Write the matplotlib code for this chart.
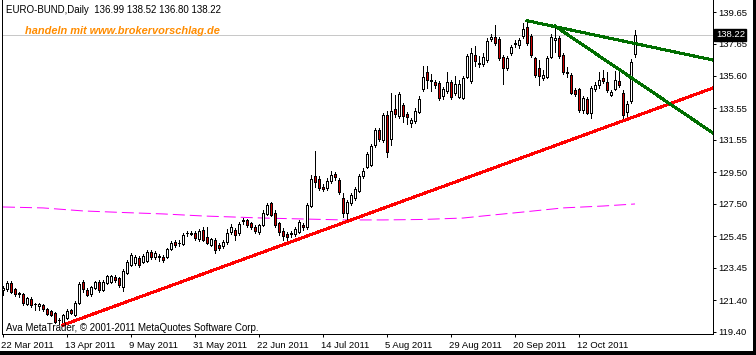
import numpy as np
import matplotlib
matplotlib.use('Agg')
import matplotlib.pyplot as plt
from matplotlib.patches import Rectangle

plt.rcParams['font.family'] = ['Liberation Sans', 'DejaVu Sans']

# daily OHLC, EURO-BUND, 22 Mar 2011 .. 1 Nov 2011
opens = [122.06, 122.12, 122.50, 122.12, 121.80, 121.80, 121.17, 121.49, 121.17, 121.04,
         121.11, 120.85, 120.73, 120.60, 120.16, 119.91, 120.29, 120.79, 120.47, 121.24,
         122.56, 122.06, 121.80, 122.18, 122.56, 122.06, 122.50, 122.56, 122.88, 122.82,
         122.25, 123.13, 123.64, 123.77, 124.08, 123.83, 123.89, 124.46, 124.15, 124.15,
         124.15, 124.15, 124.65, 125.09, 125.03, 124.97, 125.66, 125.63, 125.66, 125.28,
         125.85, 125.41, 124.91, 125.22, 124.91, 124.84, 125.09, 125.73, 125.85, 125.66,
         126.42, 126.49, 126.30, 126.04, 125.73, 126.17, 126.87, 127.56, 126.93, 126.30,
         125.79, 125.60, 125.66, 125.60, 125.73, 126.17, 126.04, 127.37, 129.27, 129.08,
         128.58, 128.51, 128.96, 129.40, 129.02, 127.88, 126.93, 127.56, 127.88, 128.32,
         129.27, 129.84, 129.97, 131.23, 132.18, 131.55, 133.13, 131.61, 133.51, 133.07,
         133.76, 133.19, 132.63, 132.75, 133.32, 134.78, 135.85, 135.28, 135.22, 135.16,
         134.33, 134.65, 135.22, 134.52, 134.27, 134.21, 135.54, 135.28, 136.93, 136.36,
         136.36, 136.61, 137.94, 138.07, 137.94, 136.80, 136.11, 137.05, 137.62, 137.56,
         138.13, 138.70, 138.13, 136.74, 136.11, 135.47, 135.54, 136.80, 137.88, 138.00,
         136.93, 135.85, 135.66, 134.71, 134.78, 133.45, 134.14, 133.26, 134.78, 135.03,
         135.47, 135.22, 134.40, 134.78, 135.28, 134.52, 133.32, 134.02, 136.99]
highs = [122.31, 122.63, 122.63, 122.18, 121.93, 121.87, 121.61, 121.61, 121.24, 121.24,
         121.17, 120.92, 120.79, 120.66, 120.29, 120.54, 120.85, 120.85, 121.36, 122.56,
         122.69, 122.18, 122.31, 122.63, 122.69, 122.69, 123.01, 123.01, 123.01, 122.88,
         123.39, 123.96, 124.40, 124.27, 124.21, 124.34, 124.59, 124.59, 124.53, 124.34,
         124.27, 124.72, 125.16, 125.22, 125.22, 125.66, 125.79, 125.79, 125.79, 125.92,
         126.04, 126.04, 125.35, 125.35, 125.03, 125.22, 125.92, 126.23, 125.98, 126.36,
         126.61, 126.55, 126.36, 126.17, 126.23, 127.12, 127.56, 127.63, 127.12, 126.36,
         125.98, 125.73, 125.79, 126.04, 126.49, 126.30, 127.56, 129.33, 130.85, 129.27,
         128.77, 129.15, 129.59, 129.52, 129.15, 128.20, 127.75, 128.20, 128.58, 129.40,
         129.77, 130.79, 131.30, 132.31, 132.31, 133.26, 133.38, 134.52, 134.40, 134.59,
         133.89, 133.32, 132.94, 133.57, 134.33, 136.23, 136.23, 135.73, 135.35, 135.28,
         134.90, 135.85, 135.35, 135.60, 135.35, 135.60, 136.99, 137.37, 137.50, 136.87,
         137.05, 138.00, 138.26, 138.83, 138.07, 136.93, 136.87, 137.56, 137.88, 138.00,
         138.95, 139.08, 138.26, 136.80, 136.61, 135.98, 136.87, 138.26, 138.76, 138.13,
         137.05, 136.17, 135.79, 134.84, 134.84, 134.33, 134.27, 134.97, 135.22, 135.85,
         135.98, 135.85, 134.71, 135.92, 136.11, 134.71, 134.02, 136.67, 138.52]
lows = [121.74, 121.99, 121.87, 121.68, 121.61, 121.11, 121.11, 120.98, 120.79, 120.79,
        120.73, 120.47, 120.41, 119.97, 119.91, 119.84, 120.22, 120.54, 120.41, 121.17,
        121.93, 121.68, 121.68, 122.12, 121.93, 121.99, 122.44, 122.50, 122.56, 122.25,
        121.99, 123.07, 123.58, 123.64, 123.51, 123.77, 123.83, 124.02, 124.02, 123.89,
        123.83, 124.08, 124.59, 124.78, 124.84, 124.91, 125.47, 125.53, 125.22, 125.16,
        125.16, 124.97, 124.84, 124.40, 124.59, 124.72, 124.97, 125.60, 125.22, 125.53,
        126.23, 126.04, 125.92, 125.66, 125.60, 126.11, 126.80, 126.74, 126.04, 125.53,
        125.22, 125.22, 125.41, 125.47, 125.66, 125.85, 125.92, 127.31, 128.58, 128.39,
        128.32, 128.39, 128.83, 129.02, 128.13, 126.68, 126.42, 127.44, 127.75, 128.26,
        129.15, 129.77, 129.90, 131.11, 131.49, 131.42, 130.47, 131.23, 133.00, 132.94,
        132.69, 132.56, 132.37, 132.63, 133.26, 134.65, 134.84, 134.65, 134.84, 134.08,
        134.14, 134.52, 134.14, 134.40, 134.21, 134.14, 135.47, 135.16, 136.23, 136.17,
        136.23, 136.49, 137.81, 137.56, 136.61, 135.09, 135.98, 136.93, 137.43, 137.37,
        138.00, 137.56, 136.80, 135.54, 135.03, 135.35, 135.47, 136.74, 137.12, 136.74,
        135.73, 135.54, 134.46, 134.33, 133.32, 133.26, 133.19, 132.94, 134.65, 134.84,
        135.16, 134.59, 134.33, 134.71, 134.90, 132.94, 133.00, 133.89, 136.80]
closes = [122.18, 122.50, 121.93, 121.80, 121.87, 121.24, 121.55, 121.11, 121.20, 121.17,
          120.85, 120.54, 120.47, 120.03, 120.13, 120.47, 120.73, 120.60, 121.24, 122.44,
          122.12, 121.74, 122.25, 122.56, 122.06, 122.56, 122.94, 122.94, 122.69, 122.37,
          123.26, 123.83, 124.27, 124.15, 123.64, 124.21, 124.46, 124.15, 124.40, 124.21,
          123.96, 124.65, 125.03, 124.91, 125.06, 125.53, 125.69, 125.69, 125.35, 125.79,
          125.22, 125.03, 125.28, 124.59, 124.72, 125.09, 125.66, 126.04, 125.53, 126.23,
          126.49, 126.17, 126.04, 125.79, 126.17, 126.93, 127.44, 126.80, 126.17, 125.73,
          125.47, 125.41, 125.60, 125.92, 126.36, 126.04, 127.44, 129.08, 128.89, 128.51,
          128.45, 128.96, 129.33, 129.21, 128.26, 126.93, 127.63, 128.07, 128.45, 129.27,
          129.59, 130.66, 131.17, 132.18, 131.61, 133.13, 130.79, 133.38, 133.19, 134.46,
          133.07, 133.00, 132.81, 133.38, 134.14, 135.54, 135.35, 135.35, 135.03, 134.21,
          134.78, 135.22, 134.27, 135.09, 135.09, 135.47, 136.87, 137.05, 136.55, 136.42,
          136.80, 137.81, 138.07, 137.69, 136.74, 136.11, 136.74, 137.43, 137.69, 137.88,
          138.57, 137.69, 136.93, 135.66, 135.60, 135.66, 136.74, 138.07, 138.00, 136.87,
          135.85, 135.79, 134.52, 134.46, 133.45, 134.21, 133.26, 134.84, 135.03, 135.35,
          135.28, 134.71, 134.59, 135.35, 135.03, 133.13, 133.83, 136.49, 138.22]

# 200-day moving average (read at a few bars)
ma_bar = [0, 10, 20, 30, 40, 50, 57, 65, 75, 85, 95, 105, 115, 120, 130, 140, 150, 158]
ma_val = [127.31, 127.25, 127.06, 126.96, 126.87, 126.74, 126.68, 126.61, 126.55, 126.49,
          126.49, 126.52, 126.61, 126.74, 126.99, 127.25, 127.37, 127.50]

# trend lines (bar, price)
red_bar, red_val = [15, 177.5], [119.84, 134.84]
green1_bar, green1_val = [131, 177.5], [139.10, 136.61]
green2_bar, green2_val = [138, 177.5], [138.76, 131.99]

last_price = 138.22
y_ticks = [139.65, 137.65, 135.60, 133.55, 131.55, 129.50, 127.50, 125.45, 123.45, 121.40, 119.40]
x_tick_bars = [0, 16, 32, 48, 64, 80, 96, 112, 128, 144]
x_tick_labels = ['22 Mar 2011', '13 Apr 2011', '9 May 2011', '31 May 2011', '22 Jun 2011',
                 '14 Jul 2011', '5 Aug 2011', '29 Aug 2011', '20 Sep 2011', '12 Oct 2011']

px = 0.72  # one pixel in points at 100 dpi
fig = plt.figure(figsize=(7.56, 3.55), dpi=100)
ax = fig.add_axes([2 / 756, 21 / 355, 711 / 756, 334 / 355])

o = np.array(opens)
h = np.array(highs)
l = np.array(lows)
c = np.array(closes)
x = np.arange(len(o))

# candles
ax.vlines(x, l, h, color='black', linewidth=px, antialiased=False, zorder=3)
up = c >= o
ax.bar(x, np.abs(c - o), bottom=np.minimum(o, c), width=0.6,
       color=np.where(up, 'white', '#cc0000'), edgecolor='black', linewidth=px,
       antialiased=False, zorder=4)

# current price line
ax.axhline(last_price, color='#c8c8c8', linewidth=px, zorder=1)

# moving average
ax.plot(ma_bar, ma_val, color='#ff00ff', linewidth=px, linestyle=(0, (12, 5)), zorder=2)

# trend lines
ax.plot(red_bar, red_val, color='#ff0000', linewidth=2 * px, antialiased=False, zorder=5)
ax.plot(green1_bar, green1_val, color='#006e00', linewidth=2 * px, antialiased=False, zorder=5)
ax.plot(green2_bar, green2_val, color='#006e00', linewidth=2 * px, antialiased=False, zorder=5)

ax.set_xlim(-0.25, 177.5)
ax.set_ylim(119.27, 140.41)

ax.yaxis.tick_right()
ax.set_yticks(y_ticks)
ax.set_yticklabels(['%.2f' % v for v in y_ticks])
ax.set_xticks(x_tick_bars)
ax.set_xticklabels(x_tick_labels, ha='left')
ax.tick_params(axis='both', length=3 * px, width=px, labelsize=6.8, pad=2)
ax.tick_params(axis='x', pad=3)
for t in ax.get_xticklabels():
    t.set_transform(t.get_transform() + matplotlib.transforms.ScaledTranslation(-2 / 100, 0, fig.dpi_scale_trans))

for s in ['left', 'right', 'bottom']:
    ax.spines[s].set_linewidth(px)
ax.spines['top'].set_visible(False)

# price box on the right axis
ax.text(1.004, last_price, '%.2f' % last_price, transform=ax.get_yaxis_transform(),
        ha='left', va='center', fontsize=6.8, color='white',
        bbox=dict(boxstyle='square,pad=0.15', facecolor='black', edgecolor='black'))

# texts
fig.text(6 / 756, 1 - 10 / 355, 'EURO-BUND,Daily  136.99 138.52 136.80 138.22',
         ha='left', va='center', fontsize=7)
fig.text(25 / 756, 1 - 31 / 355, 'handeln mit www.brokervorschlag.de', ha='left', va='center',
         fontsize=7.9, color='#ff8c00', fontweight='bold', fontstyle='italic')
fig.text(6 / 756, 1 - 328 / 355, 'Ava MetaTrader, \u00a9 2001-2011 MetaQuotes Software Corp.',
         ha='left', va='center', fontsize=7)

# dark frame at bottom and right
fig.patches.append(Rectangle((0, 0), 1, 4 / 355, transform=fig.transFigure,
                             facecolor='black', edgecolor='none'))
fig.patches.append(Rectangle((753 / 756, 0), 3 / 756, 1, transform=fig.transFigure,
                             facecolor='black', edgecolor='none'))

fig.savefig('out.png', dpi=100)
